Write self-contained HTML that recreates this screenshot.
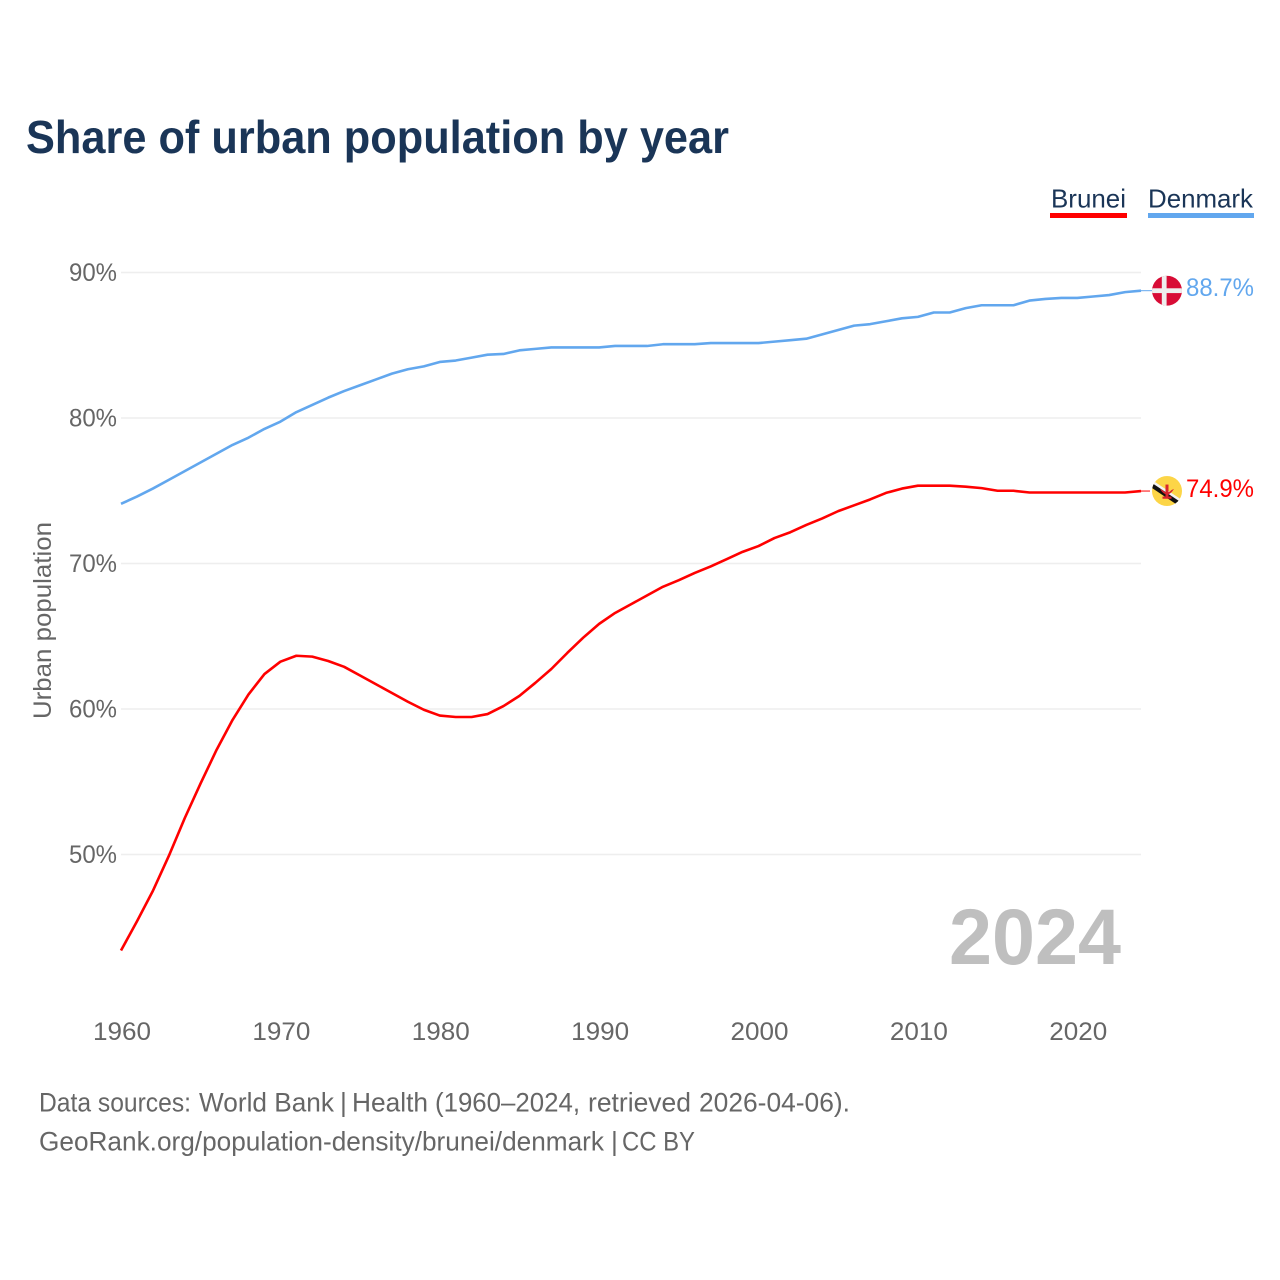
<!DOCTYPE html>
<html lang="en">
<head>
<meta charset="utf-8">
<title>Share of urban population by year</title>
<style>
html,body{margin:0;padding:0;background:#fff;}
svg{display:block;font-family:"Liberation Sans",Arial,sans-serif;}
</style>
</head>
<body>
<svg id="chart" xmlns="http://www.w3.org/2000/svg" width="1280" height="1280" viewBox="0 0 1280 1280">
  <rect width="1280" height="1280" fill="#ffffff"/>
  <text x="26" y="153" font-size="46" font-weight="700" fill="#1a3557" textLength="703" lengthAdjust="spacingAndGlyphs">Share of urban population by year</text>

  <g>
    <g>
      <text x="1051" y="207.5" font-size="26" fill="#1a3557" textLength="75" lengthAdjust="spacingAndGlyphs">Brunei</text>
      <rect x="1050" y="213" width="77" height="5" fill="#ff0000"/>
    </g>
    <g>
      <text x="1148" y="207.5" font-size="26" fill="#1a3557" textLength="105" lengthAdjust="spacingAndGlyphs">Denmark</text>
      <rect x="1148" y="213" width="106" height="5" fill="#62a7ee"/>
    </g>
  </g>

  <text transform="translate(51,620.5) rotate(-90)" text-anchor="middle" font-size="25" fill="#666666" textLength="197" lengthAdjust="spacingAndGlyphs">Urban population</text>

  <g id="grid"></g>
  <g id="yticks"></g>
  <g id="xticks"></g>

  <text x="949" y="964" font-size="79" font-weight="700" fill="#bfbfbf" textLength="172" lengthAdjust="spacingAndGlyphs">2024</text>

  <g id="series"></g>

  <g id="flag-denmark">
    <clipPath id="clip-dk"><circle cx="0" cy="0" r="15"/></clipPath>
    <g clip-path="url(#clip-dk)">
      <rect x="-15" y="-15" width="30" height="30" fill="#d80c36"/>
      <rect x="-15" y="-2.4" width="30" height="4.8" fill="#eeeeee"/>
      <rect x="-5.2" y="-15" width="4.8" height="30" fill="#eeeeee"/>
    </g>
  </g>
  <g id="flag-brunei">
    <clipPath id="clip-bn"><circle cx="0" cy="0" r="15"/></clipPath>
    <g clip-path="url(#clip-bn)">
      <rect x="-15" y="-15" width="30" height="30" fill="#fcd547"/>
      <polygon points="-15,-11 15,9 15,13 -15,-7" fill="#f4f4f4"/>
      <polygon points="-15,-8 15,12 15,17 -15,-3" fill="#111111"/>
      <rect x="-1.5" y="-6.5" width="3" height="14" fill="#d9252e"/>
      <path d="M-7,-2 Q0,9 7,-2 L4.5,-1 Q0,4 -4.5,-1 Z" fill="#d9252e"/>
      <rect x="-4.5" y="5.5" width="9" height="2.2" fill="#d9252e"/>
    </g>
  </g>

  <text id="value-denmark" x="1186" font-size="25" fill="#62a7ee" textLength="68" lengthAdjust="spacingAndGlyphs"></text>
  <text id="value-brunei" x="1186" font-size="25" fill="#ff0000" textLength="68" lengthAdjust="spacingAndGlyphs"></text>

  <g font-size="26.5" fill="#666666">
    <g>
      <text x="39" y="1111.5" textLength="152" lengthAdjust="spacingAndGlyphs">Data sources:</text>
      <text x="199" y="1111.5" textLength="135" lengthAdjust="spacingAndGlyphs">World Bank</text>
      <text x="340" y="1111.5">|</text>
      <text x="352" y="1111.5" textLength="76" lengthAdjust="spacingAndGlyphs">Health</text>
      <text x="435" y="1111.5" textLength="145" lengthAdjust="spacingAndGlyphs">(1960–2024,</text>
      <text x="588" y="1111.5" textLength="103" lengthAdjust="spacingAndGlyphs">retrieved</text>
      <text x="699" y="1111.5" textLength="151" lengthAdjust="spacingAndGlyphs">2026-04-06).</text>
    </g>
    <g>
      <text x="39" y="1150.5" textLength="565" lengthAdjust="spacingAndGlyphs">GeoRank.org/population-density/brunei/denmark</text>
      <text x="611" y="1150.5">|</text>
      <text x="622" y="1150.5" textLength="73" lengthAdjust="spacingAndGlyphs">CC BY</text>
    </g>
  </g>
</svg>
<script>
const firstYear = 1960;
const yTickValues = [90, 80, 70, 60, 50];
const xTickValues = [1960, 1970, 1980, 1990, 2000, 2010, 2020];
const bruneiValues = [43.4,45.4,47.5,49.9,52.5,54.9,57.2,59.25,61.0,62.4,63.25,63.66,63.6,63.3,62.9,62.3,61.7,61.1,60.5,59.95,59.55,59.45,59.45,59.65,60.2,60.9,61.8,62.75,63.85,64.9,65.85,66.6,67.2,67.8,68.4,68.85,69.35,69.8,70.3,70.8,71.2,71.75,72.15,72.65,73.1,73.6,74.0,74.4,74.85,75.15,75.35,75.35,75.35,75.28,75.18,75.0,75.0,74.88,74.88,74.88,74.88,74.88,74.88,74.88,74.98];
const denmarkValues = [74.1,74.6,75.15,75.75,76.35,76.95,77.55,78.15,78.65,79.25,79.75,80.4,80.9,81.4,81.85,82.25,82.65,83.05,83.35,83.55,83.85,83.95,84.15,84.35,84.4,84.65,84.75,84.85,84.85,84.85,84.85,84.95,84.95,84.95,85.07,85.07,85.07,85.15,85.15,85.15,85.15,85.25,85.35,85.45,85.75,86.05,86.35,86.45,86.65,86.85,86.95,87.25,87.25,87.55,87.75,87.75,87.75,88.07,88.18,88.25,88.25,88.35,88.45,88.65,88.75];
const bruneiLabel = "74.9%";
const denmarkLabel = "88.7%";

const NS = "http://www.w3.org/2000/svg";
function xScale(year){ return 121 + (year - 1960) * (1141 - 121) / 64; }
function yScale(v){ return 272.5 + (90 - v) * (854.5 - 272.5) / 40; }
function make(tag, parent, attrs){
  const el = document.createElementNS(NS, tag);
  for (const k in attrs) el.setAttribute(k, attrs[k]);
  parent.appendChild(el);
  return el;
}

const grid = document.getElementById("grid");
const yticks = document.getElementById("yticks");
yTickValues.forEach(function(v){
  const line = make("line", grid, {x1:121, x2:1141, y1:yScale(v), y2:yScale(v), stroke:"#eeeeee", "stroke-width":1.6});
  
  
  const t = make("text", yticks, {x:117, y:yScale(v) + 8.5, "text-anchor":"end", "font-size":25, fill:"#666666", textLength:48, lengthAdjust:"spacingAndGlyphs"});
  t.textContent = v + "%";
  
  
});

const xticks = document.getElementById("xticks");
xTickValues.forEach(function(yr){
  const t = make("text", xticks, {x:xScale(yr) + 1, y:1040, "text-anchor":"middle", "font-size":25, fill:"#666666", textLength:58, lengthAdjust:"spacingAndGlyphs"});
  t.textContent = String(yr);
  
  
});

function linePoints(values){
  return values.map(function(v, i){
    return xScale(firstYear + i).toFixed(2) + "," + yScale(v).toFixed(2);
  }).join(" ");
}

const series = document.getElementById("series");
const denmarkLine = make("polyline", series, {points:linePoints(denmarkValues), fill:"none", stroke:"#62a7ee", "stroke-width":2.6, "stroke-linejoin":"round"});


const bruneiLine = make("polyline", series, {points:linePoints(bruneiValues), fill:"none", stroke:"#ff0000", "stroke-width":2.6, "stroke-linejoin":"round"});



const lastX = xScale(firstYear + denmarkValues.length - 1);
const dkY = yScale(denmarkValues[denmarkValues.length - 1]);
const bnY = yScale(bruneiValues[bruneiValues.length - 1]);

const dkConn = make("line", series, {x1:lastX, x2:lastX + 11, y1:dkY, y2:dkY, stroke:"#62a7ee", "stroke-width":1});


const bnConn = make("line", series, {x1:lastX, x2:lastX + 9, y1:bnY, y2:bnY, stroke:"#ff0000", "stroke-width":1});



document.getElementById("flag-denmark").setAttribute("transform", "translate(" + (lastX + 26) + "," + dkY + ")");
document.getElementById("flag-brunei").setAttribute("transform", "translate(" + (lastX + 26) + "," + bnY + ")");

const dkVal = document.getElementById("value-denmark");
dkVal.textContent = denmarkLabel;
dkVal.setAttribute("y", dkY + 5.5);
const bnVal = document.getElementById("value-brunei");
bnVal.textContent = bruneiLabel;
bnVal.setAttribute("y", bnY + 6);
</script>
</body>
</html>
